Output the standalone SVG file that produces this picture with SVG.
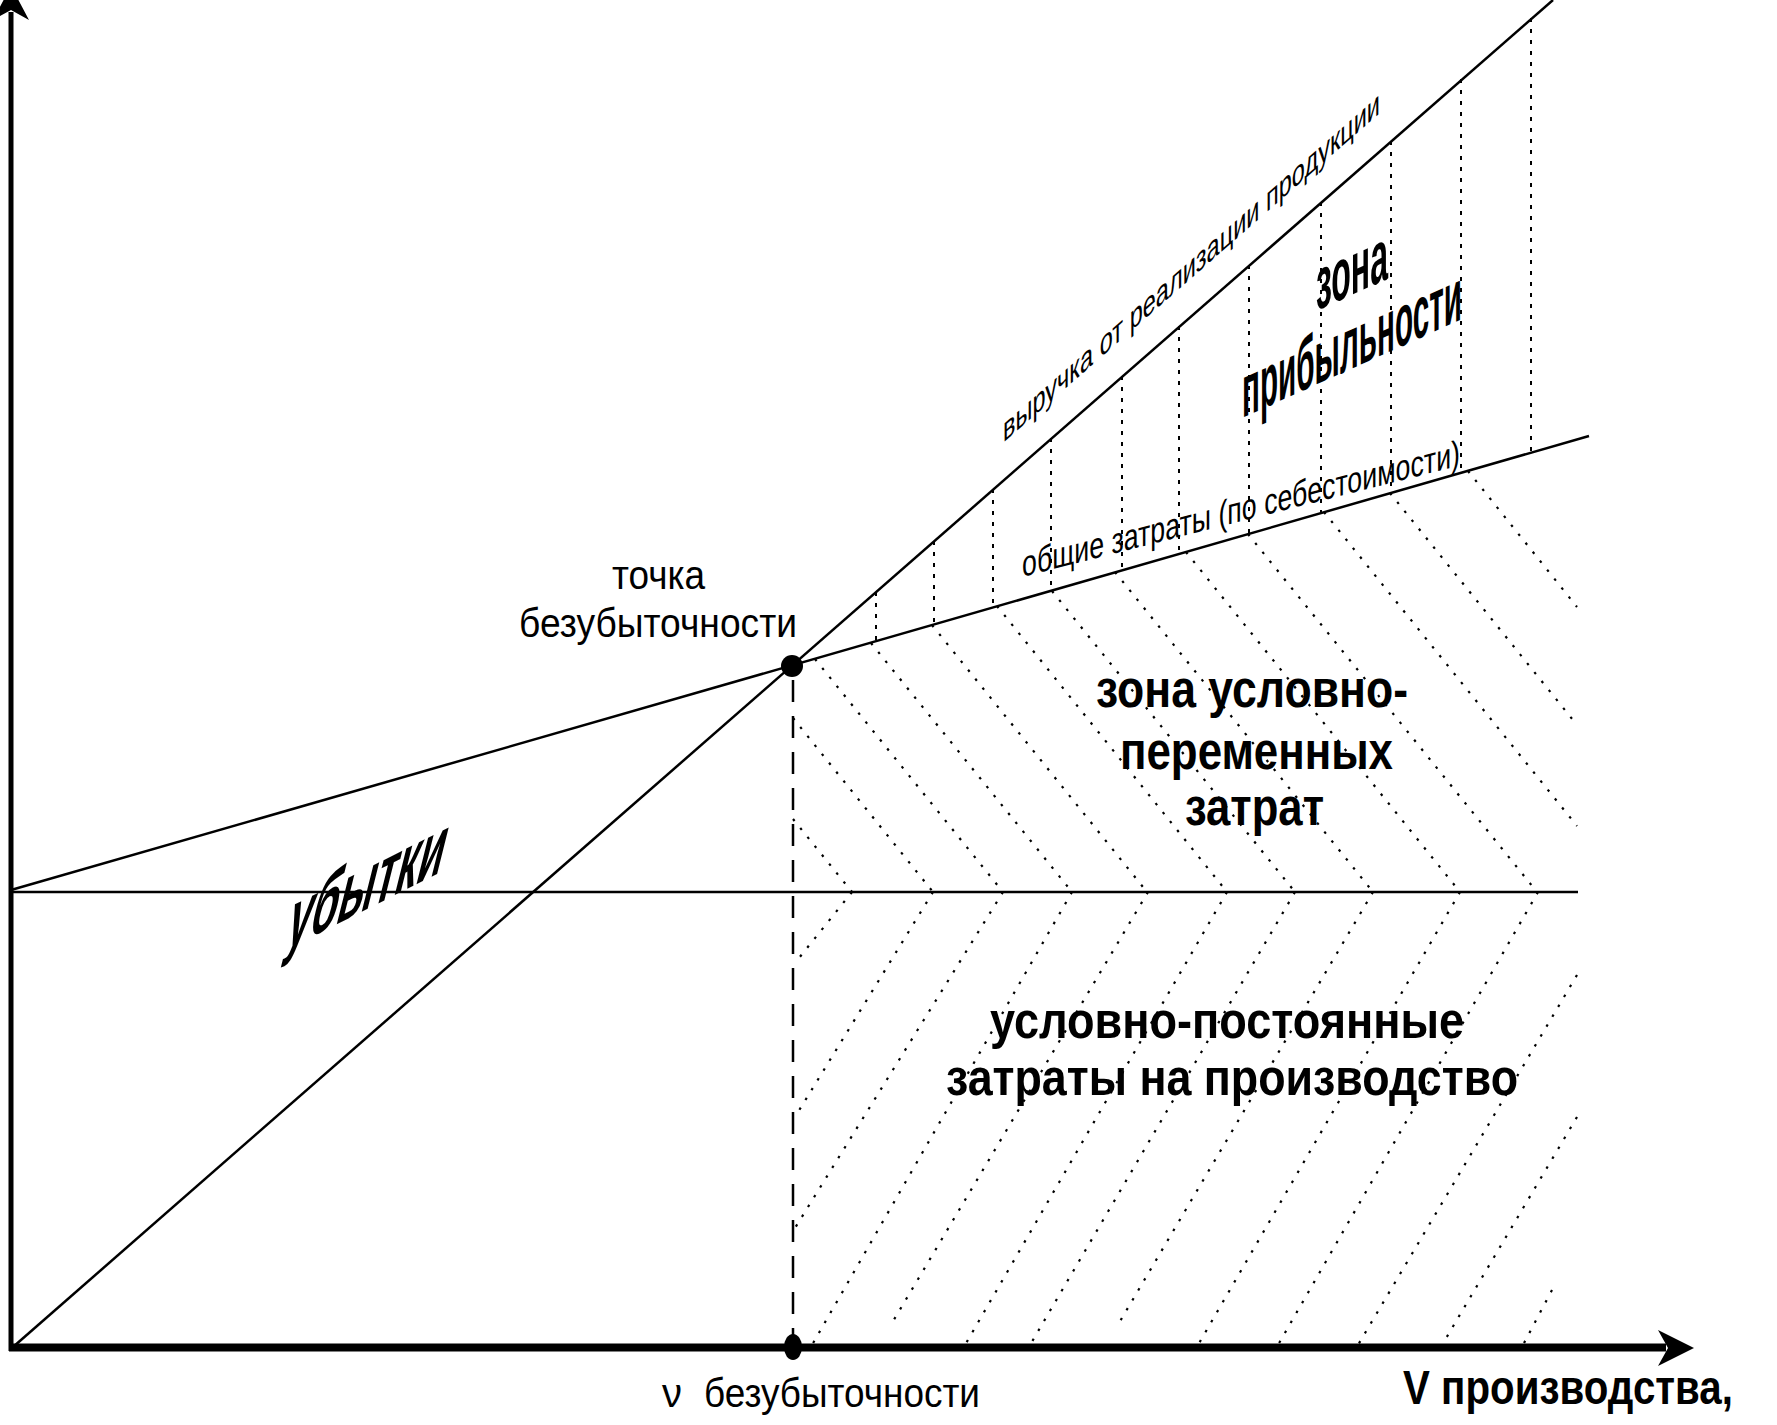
<svg xmlns="http://www.w3.org/2000/svg" width="1777" height="1425" viewBox="0 0 1777 1425">
<style>
.ln{stroke:#000;stroke-width:2.5;fill:none}
.ax{stroke:#000;fill:none}
.hu{stroke:#000;stroke-width:2.2;stroke-dasharray:2.5 9;fill:none}
.hv{stroke:#000;stroke-width:2;stroke-dasharray:4 7;fill:none}
.bd{stroke:#000;stroke-width:2.5;stroke-dasharray:22 14;fill:none}
.t{font-family:"Liberation Sans",Arial,sans-serif;fill:#000}
.b{font-weight:bold}
</style>
<rect width="1777" height="1425" fill="#fff"/>
<g id="axes">
  <line class="ax" x1="11" y1="12" x2="11" y2="1351" stroke-width="5"/>
  <polygon points="11,-14 29,20 11,10 -7,20" fill="#000"/>
  <line class="ax" x1="9" y1="1347.5" x2="1666" y2="1347.5" stroke-width="8"/>
  <polygon points="1694,1348 1658,1330 1668,1348 1658,1366" fill="#000"/>
</g>
<g id="connectors">
  <line id="revenue-line" class="ln" x1="13" y1="1347" x2="1553" y2="0"/>
  <line id="total-cost-line" class="ln" x1="11" y1="890" x2="1589" y2="436"/>
  <line id="fixed-cost-line" class="ln" x1="11" y1="892" x2="1578" y2="892"/>
  <line id="breakeven-drop" class="bd" x1="793" y1="680" x2="793" y2="1340"/>
  <path id="profit-hatch" class="hv" d="M876,592V641M934,541V624M993,489V607M1051,438V591M1122,376V570M1179,326V554M1249,265V534M1321,202V513M1391,141V493M1461,79V473M1531,18V453"/>
  <path id="variable-hatch" class="hu" d="M793,819L852,892M793,718L933,892M815,659L1003,892M871,643L1072,892M932,625L1147,892M997,606L1227,892M1052,591L1295,892M1115,572L1373,892M1186,552L1460,892M1248,534L1537,892M1324,512L1577,826M1390,493L1577,725M1468,471L1577,607"/>
  <path id="fixed-hatch" class="hu" d="M852,892L795,963M933,892L795,1117M1003,892L795,1228M1072,892L812,1345M1148,892L892,1323M1227,892L965,1345M1295,892L1030,1345M1373,892L1119,1323M1460,892L1198,1345M1538,892L1278,1345M1577,975L1358,1345M1577,1117L1442,1345M1552,1290L1523,1345"/>
</g>
<g id="breakeven-point">
  <circle cx="792" cy="666" r="11" fill="#000"/>
  <text class="t" x="612" y="589" font-size="40" textLength="93" lengthAdjust="spacingAndGlyphs">точка</text>
  <text class="t" x="519" y="637" font-size="40" textLength="278" lengthAdjust="spacingAndGlyphs">безубыточности</text>
</g>
<g id="breakeven-volume">
  <ellipse cx="793" cy="1347" rx="9" ry="13" fill="#000"/>
  <text class="t" x="662" y="1407" font-size="40">ν <tspan x="704" textLength="276" lengthAdjust="spacingAndGlyphs">безубыточности</tspan></text>
</g>
<g id="x-axis-label">
  <text class="t b" transform="matrix(0.84,0,0,1,1403,1404)" font-size="48">V производства,</text>
</g>
<g id="revenue-label">
  <text class="t" transform="matrix(1,-0.8756,0,1.48,1003,443)" font-size="23.5" textLength="377" lengthAdjust="spacingAndGlyphs">выручка от реализации продукции</text>
</g>
<g id="cost-label">
  <text class="t" transform="matrix(1,-0.255,0,1.4,1022,577)" font-size="26" textLength="438" lengthAdjust="spacingAndGlyphs">общие затраты (по себестоимости)</text>
</g>
<g id="profit-zone">
  <text class="t b" transform="matrix(1,-0.45,0,2.4,1316,311)" font-size="31" textLength="72" lengthAdjust="spacingAndGlyphs">зона</text>
  <text class="t b" transform="matrix(1,-0.45,0,2.4,1242,418)" font-size="31" textLength="220" lengthAdjust="spacingAndGlyphs">прибыльности</text>
</g>
<g id="variable-cost-zone">
  <text class="t b" x="1096" y="707" font-size="51" textLength="312" lengthAdjust="spacingAndGlyphs">зона условно-</text>
  <text class="t b" x="1120" y="769" font-size="51" textLength="273" lengthAdjust="spacingAndGlyphs">переменных</text>
  <text class="t b" x="1185" y="825" font-size="51" textLength="139" lengthAdjust="spacingAndGlyphs">затрат</text>
</g>
<g id="fixed-cost-zone">
  <text class="t b" x="990" y="1038" font-size="52" textLength="474" lengthAdjust="spacingAndGlyphs">условно-постоянные</text>
  <text class="t b" x="946" y="1095" font-size="52" textLength="572" lengthAdjust="spacingAndGlyphs">затраты на производство</text>
</g>
<g id="loss-zone">
  <text class="t b" transform="matrix(1,-0.5,-0.55,2.2,283,951)" font-size="40" textLength="157" lengthAdjust="spacingAndGlyphs">убытки</text>
</g>
</svg>
